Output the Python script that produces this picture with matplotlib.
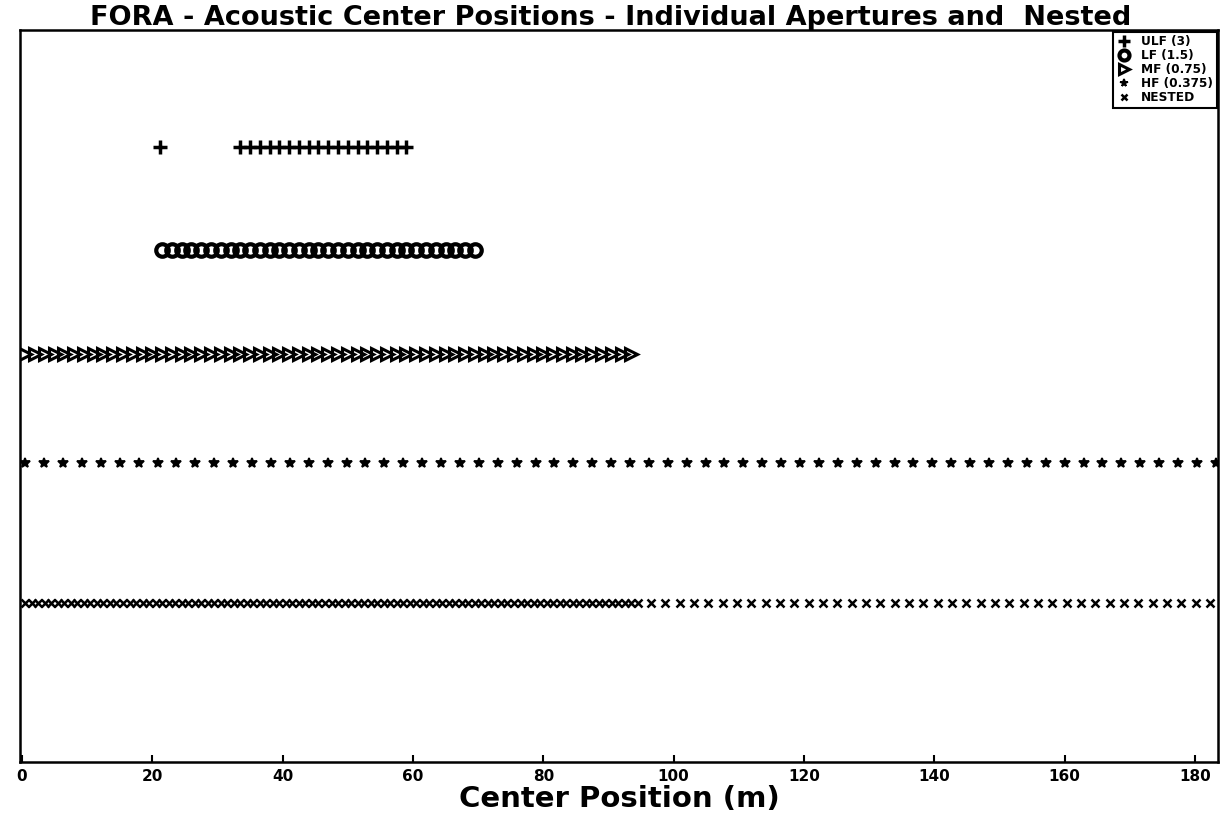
import numpy as np
import matplotlib
matplotlib.use('Agg')
import matplotlib.pyplot as plt

# acoustic center positions (m)

ulf_x = [21.2, 33.5, 35.0, 36.5, 38.0, 39.5, 41.0, 42.5, 44.0, 45.5,
         47.0, 48.5, 50.0, 51.5, 53.0, 54.5, 56.0, 57.5, 59.0]

lf_x = [21.5, 23.0, 24.5, 26.0, 27.5, 29.0, 30.5, 32.0, 33.5, 35.0,
        36.5, 38.0, 39.5, 41.0, 42.5, 44.0, 45.5, 47.0, 48.5, 50.0,
        51.5, 53.0, 54.5, 56.0, 57.5, 59.0, 60.5, 62.0, 63.5, 65.0,
        66.5, 68.0, 69.5]

mf_x = [0.5, 2.0, 3.5, 5.0, 6.5, 8.0, 9.5, 11.0, 12.5, 14.0,
        15.5, 17.0, 18.5, 20.0, 21.5, 23.0, 24.5, 26.0, 27.5, 29.0,
        30.5, 32.0, 33.5, 35.0, 36.5, 38.0, 39.5, 41.0, 42.5, 44.0,
        45.5, 47.0, 48.5, 50.0, 51.5, 53.0, 54.5, 56.0, 57.5, 59.0,
        60.5, 62.0, 63.5, 65.0, 66.5, 68.0, 69.5, 71.0, 72.5, 74.0,
        75.5, 77.0, 78.5, 80.0, 81.5, 83.0, 84.5, 86.0, 87.5, 89.0,
        90.5, 92.0, 93.5]

hf_x = [0.5, 3.4, 6.3, 9.2, 12.1, 15.0, 17.9, 20.8, 23.7, 26.6,
        29.5, 32.4, 35.3, 38.2, 41.1, 44.0, 46.9, 49.8, 52.7, 55.6,
        58.5, 61.4, 64.3, 67.2, 70.1, 73.0, 75.9, 78.8, 81.7, 84.6,
        87.5, 90.4, 93.3, 96.2, 99.1, 102.0, 104.9, 107.8, 110.7, 113.6,
        116.5, 119.4, 122.3, 125.2, 128.1, 131.0, 133.9, 136.8, 139.7, 142.6,
        145.5, 148.4, 151.3, 154.2, 157.1, 160.0, 162.9, 165.8, 168.7, 171.6,
        174.5, 177.4, 180.3, 183.2]

nested_x = [0.5, 1.5, 2.5, 3.5, 4.5, 5.5, 6.5, 7.5, 8.5, 9.5,
            10.5, 11.5, 12.5, 13.5, 14.5, 15.5, 16.5, 17.5, 18.5, 19.5,
            20.5, 21.5, 22.5, 23.5, 24.5, 25.5, 26.5, 27.5, 28.5, 29.5,
            30.5, 31.5, 32.5, 33.5, 34.5, 35.5, 36.5, 37.5, 38.5, 39.5,
            40.5, 41.5, 42.5, 43.5, 44.5, 45.5, 46.5, 47.5, 48.5, 49.5,
            50.5, 51.5, 52.5, 53.5, 54.5, 55.5, 56.5, 57.5, 58.5, 59.5,
            60.5, 61.5, 62.5, 63.5, 64.5, 65.5, 66.5, 67.5, 68.5, 69.5,
            70.5, 71.5, 72.5, 73.5, 74.5, 75.5, 76.5, 77.5, 78.5, 79.5,
            80.5, 81.5, 82.5, 83.5, 84.5, 85.5, 86.5, 87.5, 88.5, 89.5,
            90.5, 91.5, 92.5, 93.5, 94.5,
            96.5, 98.7, 100.9, 103.1, 105.3, 107.5, 109.7, 111.9, 114.1, 116.3,
            118.5, 120.7, 122.9, 125.1, 127.3, 129.5, 131.7, 133.9, 136.1, 138.3,
            140.5, 142.7, 144.9, 147.1, 149.3, 151.5, 153.7, 155.9, 158.1, 160.3,
            162.5, 164.7, 166.9, 169.1, 171.3, 173.5, 175.7, 177.9, 180.1, 182.3]

labels = ['ULF (3)', 'LF (1.5)', 'MF (0.75)', 'HF (0.375)', 'NESTED']
row_y = [6.0, 5.0, 4.0, 2.95, 1.6]
xticks = [0, 20, 40, 60, 80, 100, 120, 140, 160, 180]

fig = plt.figure(figsize=(12.21, 8.23), dpi=100)
ax = fig.add_axes([0.0164, 0.0741, 0.981, 0.889])

ax.plot(ulf_x, [row_y[0]] * len(ulf_x), linestyle='none', marker='+',
        markersize=10, mew=2.5, color='black', label=labels[0])
ax.plot(lf_x, [row_y[1]] * len(lf_x), linestyle='none', marker='o',
        markersize=9, mew=3, mfc='none', color='black', label=labels[1])
ax.plot(mf_x, [row_y[2]] * len(mf_x), linestyle='none', marker='>',
        markersize=9, mew=2.2, mfc='none', color='black', label=labels[2])
ax.plot(hf_x, [row_y[3]] * len(hf_x), linestyle='none', marker='*',
        markersize=7, mew=1.3, color='black', label=labels[3])
ax.plot(nested_x, [row_y[4]] * len(nested_x), linestyle='none', marker='x',
        markersize=6, mew=1.8, color='black', label=labels[4])

ax.set_xlim(-0.3, 183.5)
ax.set_ylim(0.07, 7.12)
ax.set_xticks(xticks)
ax.set_xticklabels([str(t) for t in xticks], fontsize=11, fontweight='bold')
ax.set_yticks([])
ax.tick_params(axis='x', direction='in', length=5, width=1.5, pad=5)
for s in ax.spines.values():
    s.set_linewidth(1.8)

ax.set_xlabel('Center Position (m)', fontsize=21, fontweight='bold', labelpad=1)
fig.suptitle('FORA - Acoustic Center Positions - Individual Apertures and  Nested',
             fontsize=19.5, fontweight='bold', y=0.994)

leg = ax.legend(loc='upper right', fontsize=8.7, frameon=True, fancybox=False,
                edgecolor='black', framealpha=1, borderaxespad=0.1,
                handlelength=1.2, handletextpad=0.8, labelspacing=0.08,
                borderpad=0.3, markerscale=0.8)
leg.get_frame().set_linewidth(1.5)
for t in leg.get_texts():
    t.set_fontweight('bold')

fig.savefig('out.png', dpi=100)
